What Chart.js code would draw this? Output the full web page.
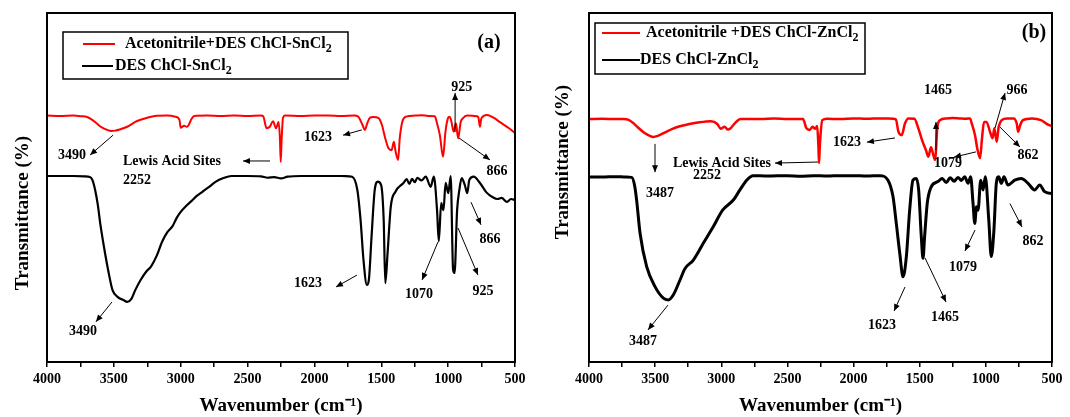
<!DOCTYPE html>
<html>
<head>
<meta charset="utf-8">
<script src="https://cdn.jsdelivr.net/npm/chart.js@4.4.0/dist/chart.umd.min.js"></script>
<style>
  html, body { margin: 0; padding: 0; background: #fff; }
  #wrap { position: relative; width: 1070px; height: 417px; }
  canvas { position: absolute; top: 0; }
</style>
</head>
<body>
<div id="wrap">
  <canvas id="chartA" width="535" height="417" style="left:0"></canvas>
  <canvas id="chartB" width="535" height="417" style="left:535px"></canvas>
</div>
<script>
// FTIR spectra: [wavenumber (cm-1), transmittance (a.u. %)]
const acnSn = [[4000,70.6],[3900,70.5],[3800,70.6],[3740,70.4],[3705,70.3],[3670,69.6],[3630,68.4],[3590,67.2],[3550,66.5],[3520,66.2],[3490,66.3],[3450,66.7],[3400,67.4],[3340,68.8],[3300,69.4],[3250,70.0],[3195,70.5],[3100,70.6],[3040,70.3],[3010,69.5],[3000,67.1],[2975,67.7],[2955,67.4],[2940,67.9],[2920,69.6],[2900,70.5],[2800,70.6],[2700,70.5],[2600,70.6],[2500,70.5],[2400,70.6],[2383,70.4],[2358,67.0],[2334,67.4],[2310,69.0],[2287,67.0],[2268,68.8],[2258,64.0],[2252,57.3],[2246,63.0],[2235,70.0],[2220,70.6],[2100,70.5],[2000,70.6],[1900,70.6],[1800,70.5],[1700,70.6],[1675,70.4],[1640,67.9],[1623,66.5],[1605,68.4],[1584,70.0],[1560,70.2],[1520,69.9],[1495,67.9],[1471,64.2],[1447,61.3],[1423,60.7],[1406,63.1],[1393,60.3],[1374,57.9],[1362,64.1],[1343,68.8],[1315,70.3],[1250,70.6],[1200,70.7],[1150,70.5],[1100,70.4],[1086,68.8],[1062,65.0],[1038,58.8],[1020,66.0],[1002,69.8],[990,70.3],[978,69.3],[959,66.0],[942,68.4],[925,64.1],[906,68.8],[890,69.8],[859,70.6],[800,70.5],[775,70.2],[762,67.4],[752,69.8],[710,70.8],[660,70.0],[615,68.8],[542,66.9],[500,65.6]];

const desSn = [[4000,53.3],[3900,53.3],[3800,53.3],[3720,53.2],[3680,53.0],[3660,52.1],[3640,49.3],[3620,45.0],[3600,39.2],[3570,32.1],[3540,25.8],[3510,20.6],[3470,18.6],[3430,17.8],[3400,17.2],[3370,18.0],[3340,20.6],[3300,23.5],[3260,25.8],[3220,27.5],[3180,30.4],[3140,34.4],[3100,37.2],[3060,39.0],[3030,41.3],[3000,43.0],[2960,44.7],[2920,46.1],[2880,47.6],[2840,48.7],[2790,50.1],[2740,51.6],[2680,52.7],[2620,53.3],[2500,53.3],[2400,53.2],[2350,52.8],[2300,53.0],[2250,52.6],[2200,53.1],[2100,53.3],[2000,53.3],[1900,53.3],[1800,53.3],[1740,53.2],[1718,53.1],[1679,49.3],[1655,40.7],[1633,29.2],[1608,22.1],[1593,23.5],[1573,35.8],[1549,49.3],[1525,51.7],[1501,50.7],[1482,40.7],[1470,22.6],[1453,31.2],[1429,44.5],[1394,48.8],[1334,51.3],[1310,52.4],[1290,51.0],[1270,52.5],[1250,51.5],[1230,52.8],[1200,52.0],[1167,53.1],[1131,50.2],[1107,53.1],[1083,43.5],[1070,34.6],[1052,45.5],[1035,43.5],[1019,51.3],[999,48.4],[981,53.3],[963,26.4],[952,25.5],[933,43.5],[916,49.3],[899,52.7],[875,50.7],[857,48.4],[842,52.1],[809,53.1],[762,51.3],[714,48.6],[666,47.2],[631,46.7],[600,47.0],[560,45.9],[530,46.7],[500,46.4]];

const acnZn = [[4000,69.6],[3900,69.7],[3800,69.6],[3740,69.6],[3701,69.4],[3670,68.6],[3630,67.2],[3580,65.6],[3540,64.8],[3515,64.5],[3480,64.8],[3420,65.9],[3370,66.8],[3327,67.4],[3250,68.1],[3178,68.6],[3079,69.0],[3030,68.2],[3004,66.8],[2975,67.4],[2950,66.6],[2929,67.0],[2900,68.3],[2854,69.6],[2700,69.6],[2600,69.8],[2500,69.6],[2382,69.6],[2357,67.0],[2332,66.5],[2310,67.4],[2290,66.8],[2275,67.6],[2266,62.0],[2261,57.0],[2255,62.0],[2236,69.3],[2200,69.7],[2100,69.6],[2000,69.8],[1900,69.7],[1800,69.8],[1700,69.7],[1680,69.5],[1661,66.0],[1636,65.0],[1611,68.4],[1586,69.8],[1540,69.7],[1511,67.0],[1478,63.1],[1453,60.7],[1435,58.8],[1415,61.5],[1397,59.3],[1384,57.9],[1367,67.0],[1346,69.3],[1300,69.8],[1250,69.9],[1200,69.8],[1150,69.7],[1120,69.8],[1107,68.4],[1082,65.0],[1065,61.2],[1044,58.4],[1029,64.1],[1014,68.8],[995,68.8],[969,66.0],[949,64.1],[936,67.0],[918,63.1],[903,67.4],[880,69.3],[840,69.8],[790,69.8],[767,68.4],[756,66.0],[741,67.8],[720,69.3],[651,69.8],[583,69.3],[530,68.0],[500,67.6]];

const desZn = [[4000,53.0],[3900,53.0],[3800,53.1],[3720,53.0],[3677,52.9],[3655,50.5],[3640,46.4],[3614,36.9],[3564,27.3],[3501,21.6],[3438,18.3],[3401,17.8],[3363,19.2],[3312,23.5],[3274,26.8],[3211,29.2],[3136,34.0],[3060,38.8],[2990,43.5],[2909,46.4],[2859,49.3],[2808,52.1],[2760,53.4],[2650,53.3],[2500,53.4],[2400,53.2],[2300,53.4],[2200,53.3],[2100,53.4],[2000,53.4],[1900,53.3],[1800,53.4],[1740,52.1],[1702,47.4],[1677,39.7],[1651,31.2],[1626,24.4],[1601,30.2],[1576,43.5],[1551,52.1],[1526,52.6],[1508,49.3],[1488,35.9],[1475,29.7],[1463,35.9],[1443,45.5],[1413,50.2],[1362,51.7],[1330,52.6],[1300,51.4],[1270,52.8],[1240,51.8],[1211,52.9],[1185,52.0],[1160,53.1],[1134,51.2],[1115,53.1],[1097,45.5],[1084,39.7],[1071,44.5],[1059,43.5],[1039,52.1],[1021,49.3],[1004,53.1],[978,40.7],[959,30.2],[939,37.8],[921,51.2],[903,53.1],[883,51.2],[863,53.1],[833,50.7],[782,52.1],[732,52.6],[681,51.2],[631,49.3],[593,50.7],[556,48.8],[505,48.3],[500,48.3]];

const majorTicks = [4000, 3500, 3000, 2500, 2000, 1500, 1000, 500];
const minorTicks = [3750, 3250, 2750, 2250, 1750, 1250, 750];

const labelsA = ['Acetonitrile+DES ChCl-SnCl2', 'DES ChCl-SnCl2'];
const labelsB = ['Acetonitrile +DES ChCl-ZnCl2', 'DES ChCl-ZnCl2'];

// peak labels: text at [wn, T], arrow from -> to (head at "to")
const notesA = [
  { text: '925', at: [898, 78.8], from: [948, 65.9], to: [948, 77.1] },
  { text: '1623', at: [1973, 64.5], from: [1646, 66.5], to: [1786, 65.0] },
  { text: '3490', at: [3813, 59.3], from: [3506, 65.0], to: [3678, 59.3] },
  { text: 'Lewis Acid Sites', at: [3432, 57.6], align: 'left', from: [2332, 57.6], to: [2534, 57.6] },
  { text: '2252', at: [3432, 52.1], align: 'left' },
  { text: '866', at: [634, 54.7], from: [919, 64.2], to: [687, 57.9] },
  { text: '866', at: [687, 35.2], from: [829, 45.8], to: [754, 39.3] },
  { text: '1623', at: [2048, 22.6], from: [1682, 24.9], to: [1839, 21.5] },
  { text: '1070', at: [1218, 19.5], from: [1076, 34.4], to: [1195, 23.5] },
  { text: '925', at: [739, 20.3], from: [926, 38.4], to: [777, 24.9] },
  { text: '3490', at: [3731, 8.9], from: [3514, 17.2], to: [3634, 11.5] }
];
const notesB = [
  { text: '1465', at: [1362, 77.9], from: [1377, 60.7], to: [1377, 68.8] },
  { text: '966', at: [765, 77.9], from: [931, 67.0], to: [855, 77.1] },
  { text: '1623', at: [2050, 63.0], from: [1687, 64.2], to: [1899, 63.0] },
  { text: '1079', at: [1286, 56.9], from: [1075, 60.2], to: [1241, 58.7] },
  { text: '862', at: [682, 59.3], from: [893, 67.3], to: [742, 61.6] },
  { text: 'Lewis Acid Sites', at: [2995, 57.0], from: [2269, 57.3], to: [2594, 57.0] },
  { text: '2252', at: [3108, 53.6] },
  { text: '3487', at: [3463, 48.4], from: [3501, 62.5], to: [3501, 54.4] },
  { text: '3487', at: [3592, 6.0], from: [3403, 16.3], to: [3554, 9.2] },
  { text: '1623', at: [1785, 10.6], from: [1611, 21.5], to: [1694, 14.6] },
  { text: '1465', at: [1309, 12.9], from: [1460, 29.8], to: [1301, 17.2] },
  { text: '1079', at: [1173, 27.2], from: [1082, 37.8], to: [1158, 31.8] },
  { text: '862', at: [644, 34.7], from: [818, 45.4], to: [727, 38.7] }
];

const SERIF = '"Liberation Serif", "Times New Roman", serif';
Chart.defaults.color = '#000';
Chart.defaults.font.family = SERIF;

function arrow(ctx, x1, y1, x2, y2) {
  const ang = Math.atan2(y2 - y1, x2 - x1);
  ctx.beginPath();
  ctx.moveTo(x1, y1);
  ctx.lineTo(x2, y2);
  ctx.stroke();
  ctx.beginPath();
  ctx.moveTo(x2, y2);
  ctx.lineTo(x2 - 7 * Math.cos(ang) + 3 * Math.sin(ang), y2 - 7 * Math.sin(ang) - 3 * Math.cos(ang));
  ctx.lineTo(x2 - 7 * Math.cos(ang) - 3 * Math.sin(ang), y2 - 7 * Math.sin(ang) + 3 * Math.cos(ang));
  ctx.closePath();
  ctx.fill();
}

// text with trailing digit drawn as subscript
function subText(ctx, s, x, y) {
  let main = s, sub = '';
  if (/\d$/.test(s)) { main = s.slice(0, -1); sub = s.slice(-1); }
  ctx.font = 'bold 16px ' + SERIF;
  ctx.fillText(main, x, y);
  if (sub) {
    const w = ctx.measureText(main).width;
    ctx.font = 'bold 12px ' + SERIF;
    ctx.fillText(sub, x + w, y + 5);
  }
}

const extras = {
  id: 'extras',
  afterDraw(chart, args, opts) {
    const { ctx, chartArea: a, scales: { x, y } } = chart;
    ctx.save();
    // frame
    ctx.strokeStyle = '#000';
    ctx.lineWidth = 2;
    ctx.strokeRect(a.left, a.top, a.right - a.left, a.bottom - a.top);

    // y axis title
    ctx.save();
    ctx.translate(opts.yTitle.x, opts.yTitle.y);
    ctx.rotate(-Math.PI / 2);
    ctx.font = 'bold 19px ' + SERIF;
    ctx.fillStyle = '#000';
    ctx.textAlign = 'center';
    ctx.textBaseline = 'middle';
    ctx.fillText('Transmittance (%)', 0, 0);
    ctx.restore();

    // peak annotations
    ctx.fillStyle = '#000';
    ctx.lineWidth = 1;
    ctx.textBaseline = 'middle';
    opts.notes.forEach(n => {
      ctx.font = 'bold 14px ' + SERIF;
      ctx.textAlign = n.align || 'center';
      ctx.fillText(n.text, x.getPixelForValue(n.at[0]), y.getPixelForValue(n.at[1]));
      if (n.from) {
        arrow(ctx, x.getPixelForValue(n.from[0]), y.getPixelForValue(n.from[1]),
          x.getPixelForValue(n.to[0]), y.getPixelForValue(n.to[1]));
      }
    });

    // legend box
    const L = opts.legend;
    ctx.lineWidth = 1.5;
    ctx.strokeRect(a.left + L.x, a.top + L.y, L.w, L.h);
    ctx.textAlign = 'left';
    chart.data.datasets.forEach((ds, i) => {
      const r = L.rows[i];
      ctx.strokeStyle = ds.borderColor;
      ctx.lineWidth = 2;
      ctx.beginPath();
      ctx.moveTo(a.left + r.x0, a.top + r.y);
      ctx.lineTo(a.left + r.x1, a.top + r.y);
      ctx.stroke();
      ctx.fillStyle = '#000';
      subText(ctx, ds.label, a.left + r.tx, a.top + r.y);
    });

    // panel letter
    ctx.font = 'bold 20px ' + SERIF;
    ctx.textAlign = 'center';
    ctx.fillText(opts.tag.text, a.left + opts.tag.x, a.top + opts.tag.y);
    ctx.restore();
  }
};

function makeChart(id, series, labels, widths, notes, legend, tag, yWidth, yTitle, rightPad) {
  return new Chart(document.getElementById(id), {
    type: 'line',
    data: {
      datasets: [
        {
          label: labels[0],
          data: series[0].map(p => ({ x: p[0], y: p[1] })),
          borderColor: '#ff0000',
          borderWidth: widths[0],
          pointRadius: 0,
          cubicInterpolationMode: 'monotone'
        },
        {
          label: labels[1],
          data: series[1].map(p => ({ x: p[0], y: p[1] })),
          borderColor: '#000000',
          borderWidth: widths[1],
          pointRadius: 0,
          cubicInterpolationMode: 'monotone'
        }
      ]
    },
    options: {
      responsive: false,
      animation: false,
      devicePixelRatio: 1,
      layout: { padding: { top: 13, right: rightPad, bottom: 0, left: 0 } },
      plugins: {
        legend: { display: false },
        tooltip: { enabled: false },
        extras: { notes: notes, legend: legend, tag: tag, yTitle: yTitle }
      },
      scales: {
        x: {
          type: 'linear',
          reverse: true,
          min: 500,
          max: 4000,
          afterBuildTicks: s => {
            s.ticks = majorTicks.concat(minorTicks).sort((p, q) => q - p).map(v => ({ value: v }));
          },
          afterFit: s => { s.height = 55; },
          ticks: {
            autoSkip: false,
            maxRotation: 0,
            padding: 4,
            font: { size: 14, weight: 'bold' },
            callback: v => majorTicks.includes(v) ? String(v) : ''
          },
          grid: { drawOnChartArea: false, tickLength: 5, color: '#000', lineWidth: 1.5 },
          border: { display: true, color: '#000', width: 2 },
          title: {
            display: true,
            text: 'Wavenumber (cm\u207B\u00B9)',
            font: { size: 19, weight: 'bold' },
            padding: { top: 0, bottom: 0 }
          }
        },
        y: {
          min: 0,
          max: 100,
          afterFit: s => { s.width = yWidth; },
          ticks: { display: false },
          grid: { display: false },
          border: { display: true, color: '#000', width: 2 }
        }
      }
    },
    plugins: [extras]
  });
}

makeChart('chartA', [acnSn, desSn], labelsA, [2, 2.2], notesA,
  { x: 16, y: 19, w: 285, h: 47, rows: [{ x0: 36, x1: 68, tx: 78, y: 31 }, { x0: 35, x1: 66, tx: 68, y: 53 }] },
  { text: '(a)', x: 442, y: 30 }, 47, { x: 23, y: 213 }, 20);

makeChart('chartB', [acnZn, desZn], labelsB, [2.5, 3], notesB,
  { x: 6, y: 10, w: 270, h: 51, rows: [{ x0: 13, x1: 51, tx: 57, y: 20 }, { x0: 13, x1: 51, tx: 51, y: 47 }] },
  { text: '(b)', x: 445, y: 20 }, 54, { x: 28, y: 162 }, 18);
</script>
</body>
</html>
